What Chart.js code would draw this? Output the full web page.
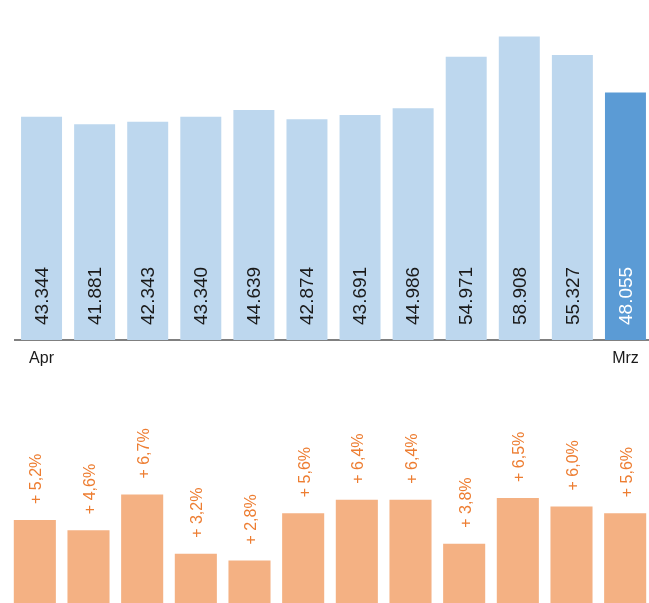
<!DOCTYPE html>
<html>
<head>
<meta charset="utf-8">
<script src="https://cdn.jsdelivr.net/npm/chart.js"></script>
<style>
  html, body { margin: 0; padding: 0; background: #fff; overflow: hidden; }
  #wrap { position: relative; width: 649px; height: 603px; overflow: hidden; }
  #top { position: absolute; left: 0; top: 0; }
  #bottom { position: absolute; left: 0; top: 388px; }
</style>
</head>
<body>
<div id="wrap">
  <canvas id="top" width="652" height="375"></canvas>
  <canvas id="bottom" width="652" height="220"></canvas>
</div>
<script>
const months = ['Apr', 'Mai', 'Jun', 'Jul', 'Aug', 'Sep', 'Okt', 'Nov', 'Dez', 'Jan', 'Feb', 'Mrz'];
const totals = [43344, 41881, 42343, 43340, 44639, 42874, 43691, 44986, 54971, 58908, 55327, 48055];
const growth = [5.2, 4.6, 6.7, 3.2, 2.8, 5.6, 6.4, 6.4, 3.8, 6.5, 6.0, 5.6];

const FONT = "'Liberation Sans', Arial, sans-serif";

function fmtThousands(v) {
    return (v / 1000).toFixed(3);
}

function fmtPct(v) {
    return '+ ' + v.toFixed(1).replace('.', ',') + '%';
}

// vertical labels written upward from the base of each bar
const baseLabels = {
    id: 'baseLabels',
    afterDatasetsDraw(chart) {
        const ctx = chart.ctx;
        const meta = chart.getDatasetMeta(0);
        ctx.save();
        ctx.font = '19px ' + FONT;
        ctx.textAlign = 'left';
        ctx.textBaseline = 'middle';
        meta.data.forEach((bar, i) => {
            ctx.save();
            ctx.translate(bar.x + 1, bar.base - 15);
            ctx.rotate(-Math.PI / 2);
            ctx.fillStyle = i === totals.length - 1 ? '#ffffff' : '#1a1a1a';
            ctx.fillText(fmtThousands(totals[i]), 0, 0);
            ctx.restore();
        });
        ctx.restore();
    }
};

// vertical labels sitting above each bar
const topLabels = {
    id: 'topLabels',
    afterDatasetsDraw(chart) {
        const ctx = chart.ctx;
        const meta = chart.getDatasetMeta(0);
        ctx.save();
        ctx.font = '16px ' + FONT;
        ctx.textAlign = 'left';
        ctx.textBaseline = 'middle';
        ctx.fillStyle = '#ED7D31';
        meta.data.forEach((bar, i) => {
            ctx.save();
            ctx.translate(bar.x + 2, bar.y - 16);
            ctx.rotate(-Math.PI / 2);
            ctx.fillText(fmtPct(growth[i]), 0, 0);
            ctx.restore();
        });
        ctx.restore();
    }
};

new Chart(document.getElementById('top'), {
    type: 'bar',
    data: {
        labels: months,
        datasets: [{
            data: totals,
            backgroundColor: totals.map((v, i) => i === totals.length - 1 ? '#5B9BD5' : '#BDD7EE'),
            borderWidth: 0,
            categoryPercentage: 1,
            barPercentage: 0.772
        }]
    },
    options: {
        responsive: false,
        animation: false,
        layout: { padding: { left: 15, right: 0, top: 0, bottom: 0 } },
        plugins: { legend: { display: false }, tooltip: { enabled: false } },
        scales: {
            x: {
                grid: { display: false },
                border: { display: true, color: '#808080', width: 2 },
                ticks: {
                    autoSkip: false,
                    maxRotation: 0,
                    padding: 1,
                    color: '#1a1a1a',
                    font: { family: FONT, size: 16 },
                    callback: (v, i) => (i === 0 || i === months.length - 1) ? months[i] : ''
                },
                afterFit: (scale) => { scale.height = 35; }
            },
            y: {
                display: false,
                min: 0,
                max: 66000
            }
        }
    },
    plugins: [baseLabels]
});

new Chart(document.getElementById('bottom'), {
    type: 'bar',
    data: {
        labels: months,
        datasets: [{
            data: growth,
            backgroundColor: '#F4B183',
            borderWidth: 0,
            categoryPercentage: 1,
            barPercentage: 0.784
        }]
    },
    options: {
        responsive: false,
        animation: false,
        layout: { padding: { left: 8, right: 0, top: 0, bottom: 0 } },
        plugins: { legend: { display: false }, tooltip: { enabled: false } },
        scales: {
            x: { display: false },
            y: { display: false, min: 0, max: 13 }
        }
    },
    plugins: [topLabels]
});
</script>
</body>
</html>
